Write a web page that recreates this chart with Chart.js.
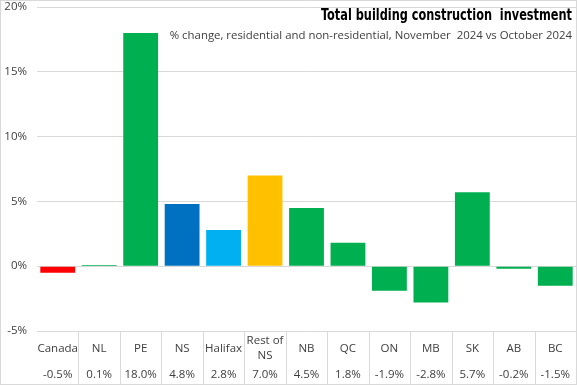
<!DOCTYPE html>
<html>
<head>
<meta charset="utf-8">
<script src="https://cdn.jsdelivr.net/npm/chart.js@4"></script>
<style>
  html, body { margin: 0; padding: 0; background: #fff; }
  #wrap { width: 577px; height: 385px; position: relative; }
</style>
</head>
<body>
<div id="wrap"><canvas id="chart"></canvas></div>
<script>
const categories = ["Canada", "NL", "PE", "NS", "Halifax", "Rest of NS", "NB", "QC", "ON", "MB", "SK", "AB", "BC"];
const values = [-0.5, 0.1, 18.0, 4.8, 2.8, 7.0, 4.5, 1.8, -1.9, -2.8, 5.7, -0.2, -1.5];
const barColors = ["#FF0000", "#00B050", "#00B050", "#0070C0", "#00B0F0", "#FFC000", "#00B050", "#00B050", "#00B050", "#00B050", "#00B050", "#00B050", "#00B050"];
const yTicks = [-5, 0, 5, 10, 15, 20];

const title = "Total building construction  investment";
const subtitle = "% change, residential and non-residential, November  2024 vs October 2024";

const FONT = "'Open Sans', 'Noto Sans', sans-serif";
const TEXT = "#404040";
const GRID = "#D9D9D9";

// title + the little table under the bars
const extras = {
  id: "extras",
  afterDraw(chart) {
    const { ctx, chartArea, scales } = chart;
    const x = scales.x;
    ctx.save();

    // title is a narrow bold face in the original, squeeze it a bit
    ctx.textAlign = "right";
    ctx.textBaseline = "alphabetic";
    ctx.fillStyle = "#000";
    ctx.font = "bold 15.5px 'Liberation Sans Narrow', 'DejaVu Sans Condensed', sans-serif";
    const tw = ctx.measureText(title).width;
    const sx = Math.min(1, 251 / tw);
    ctx.save();
    ctx.translate(572, 20);
    ctx.scale(sx, 1);
    ctx.fillText(title, 0, 0);
    ctx.restore();

    ctx.fillStyle = TEXT;
    ctx.font = "11.4px " + FONT;
    ctx.fillText(subtitle, 572, 39);

    // separators
    ctx.strokeStyle = GRID;
    ctx.lineWidth = 1;
    const half = (x.getPixelForValue(1) - x.getPixelForValue(0)) / 2;
    for (let i = 1; i < categories.length; i++) {
      const px = Math.round(x.getPixelForValue(i) - half) + 0.5;
      ctx.beginPath();
      ctx.moveTo(px, chartArea.bottom);
      ctx.lineTo(px, chart.height);
      ctx.stroke();
    }

    ctx.textAlign = "center";
    ctx.textBaseline = "middle";
    ctx.fillStyle = TEXT;
    ctx.font = "11.5px " + FONT;
    categories.forEach((c, i) => {
      const cx = x.getPixelForValue(i);
      if (c === "Rest of NS") {
        ctx.fillText("Rest of", cx, chartArea.bottom + 10);
        ctx.fillText("NS", cx, chartArea.bottom + 25);
      } else {
        ctx.fillText(c, cx, chartArea.bottom + 18);
      }
      ctx.fillText(values[i].toFixed(1) + "%", cx, chartArea.bottom + 44);
    });

    // outer border
    ctx.strokeStyle = GRID;
    ctx.strokeRect(0.5, 0.5, chart.width - 1, chart.height - 1);
    ctx.restore();
  }
};

new Chart(document.getElementById("chart"), {
  type: "bar",
  data: {
    labels: categories,
    datasets: [{
      data: values,
      backgroundColor: barColors,
      categoryPercentage: 1,
      barPercentage: 0.84
    }]
  },
  plugins: [extras],
  options: {
    responsive: true,
    maintainAspectRatio: false,
    animation: false,
    layout: { padding: { top: 7, right: 1, bottom: 54, left: 0 } },
    plugins: { legend: { display: false }, tooltip: { enabled: false } },
    scales: {
      x: {
        display: false
      },
      y: {
        min: -5,
        max: 20,
        afterBuildTicks(scale) { scale.ticks = yTicks.map(v => ({ value: v })); },
        afterFit(scale) {
          scale.width = 37;
          scale.paddingTop = 0;
          scale.paddingBottom = 0;
        },
        ticks: {
          padding: 10,
          color: TEXT,
          font: { family: FONT, size: 11.5 },
          callback: v => v + "%"
        },
        grid: { color: GRID, drawTicks: false },
        border: { display: false }
      }
    }
  }
});
</script>
</body>
</html>
